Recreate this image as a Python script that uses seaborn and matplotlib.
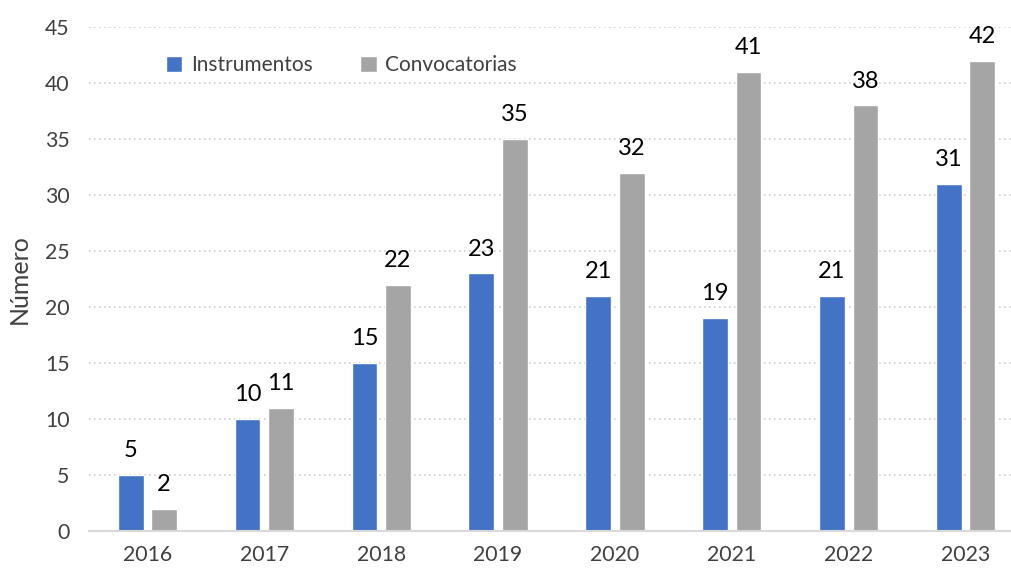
import pandas as pd
import matplotlib.pyplot as plt
import seaborn as sns

# datos
anios = ['2016', '2017', '2018', '2019', '2020', '2021', '2022', '2023']
instrumentos = [5, 10, 15, 23, 21, 19, 21, 31]
convocatorias = [2, 11, 22, 35, 32, 41, 38, 42]

df = pd.DataFrame({
    'anio': anios * 2,
    'valor': instrumentos + convocatorias,
    'serie': ['Instrumentos'] * len(anios) + ['Convocatorias'] * len(anios),
})

sns.set_style('white')
plt.rcParams['font.family'] = ['Lato', 'DejaVu Sans']

fig = plt.figure(figsize=(10.11, 5.71), dpi=100)
ax = fig.add_axes([89 / 1011, 0.070, 935 / 1011, 0.8827])

ax = sns.barplot(data=df, x='anio', y='valor', hue='serie',
                 palette=['#4472C4', '#A5A5A5'], width=0.573, gap=0.23,
                 saturation=1, ax=ax)

for cont in ax.containers:
    ax.bar_label(cont, padding=10, fontsize=17, color='black')

ax.set_ylim(0, 45)
ax.set_xlim(-0.5, 7.5)
ax.set_yticks(range(0, 46, 5))
ax.yaxis.grid(True, linestyle=(0, (1, 2)), color='#D0D0D0', linewidth=1.2)
ax.set_axisbelow(True)
for s in ['top', 'right', 'left']:
    ax.spines[s].set_visible(False)
ax.spines['bottom'].set_color('#D9D9D9')
ax.spines['bottom'].set_linewidth(1.5)
ax.tick_params(axis='both', length=0, labelsize=15.3, labelcolor='#404040')
ax.tick_params(axis='x', pad=10)
ax.tick_params(axis='y', pad=14)
ax.set_xlabel('')
ax.set_ylabel('Número', fontsize=18, color='#404040', labelpad=10)

ax.legend(loc='upper left', bbox_to_anchor=(0.062, 0.982), ncol=2, frameon=False,
          fontsize=15, handlelength=0.8, handleheight=0.8, handletextpad=0.4,
          columnspacing=2.3, labelcolor='#404040')

plt.savefig('out.png', dpi=100)
plt.close()
